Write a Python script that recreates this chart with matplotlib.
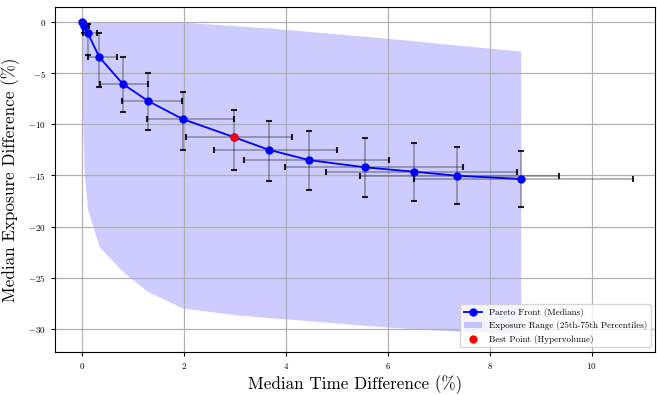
import matplotlib
matplotlib.use("Agg")
import matplotlib.pyplot as plt
import numpy as np

plt.rcParams["font.family"] = ["cmr10", "DejaVu Serif"]
plt.rcParams["mathtext.fontset"] = "cm"
plt.rcParams["axes.formatter.use_mathtext"] = True
plt.rcParams["axes.unicode_minus"] = True

# Pareto front medians (time difference %, exposure difference %)
time_median = [0.0, 0.045, 0.112, 0.339, 0.798, 1.288, 1.975, 2.975,
               3.661, 4.451, 5.549, 6.516, 7.347, 8.608]
exposure_median = [0.0, -0.36, -1.07, -3.42, -6.03, -7.69, -9.48, -11.24,
                   -12.48, -13.49, -14.20, -14.63, -15.02, -15.34]

# Interquartile spread of time around each median
time_q25 = [0.0, 0.0, 0.02, 0.118, 0.353, 0.784, 1.269, 2.039,
            2.588, 3.171, 3.98, 4.778, 5.451, 6.516]
time_q75 = [0.0, 0.137, 0.29, 0.68, 1.288, 1.961, 2.975, 4.118,
            5.0, 6.03, 7.476, 8.524, 9.359, 10.81]

# Interquartile spread of exposure used for the vertical bars
exp_bar_hi = [0.0, 0.0, -0.2, -1.07, -3.42, -4.98, -6.84, -8.60,
              -9.67, -10.62, -11.31, -11.80, -12.24, -12.58]
exp_bar_lo = [0.0, -1.07, -3.23, -6.35, -8.80, -10.55, -12.51, -14.46,
              -15.54, -16.42, -17.07, -17.46, -17.76, -18.05]

# Exposure range band (25th-75th percentiles)
exp_band_hi = [0.0, 0.0, 0.0, 0.0, 0.0, 0.0, 0.0, -0.34,
               -0.57, -0.91, -1.38, -1.82, -2.24, -2.83]
exp_band_lo = [-7.0, -15.0, -18.4, -21.97, -24.4, -26.35, -27.96, -28.6,
               -28.9, -29.2, -29.66, -30.0, -30.24, -30.5]

best_index = 7

tm = np.array(time_median)
em = np.array(exposure_median)
xerr = np.vstack([tm - np.array(time_q25), np.array(time_q75) - tm])
yerr = np.vstack([em - np.array(exp_bar_lo), np.array(exp_bar_hi) - em])
xerr = np.clip(xerr, 0, None)
yerr = np.clip(yerr, 0, None)

fig = plt.figure(figsize=(6.57, 3.95), dpi=100)
ax = fig.add_axes([0.0837, 0.109, 0.914, 0.873])

ax.fill_between(tm, exp_band_lo, exp_band_hi, color="blue", alpha=0.2,
                linewidth=0, label="Exposure Range (25th-75th Percentiles)")

eb = ax.errorbar(tm, em, xerr=xerr, yerr=yerr, fmt="none", ecolor="black",
                 elinewidth=1.3, capsize=2.5, capthick=1.5, alpha=0.3)
for cap in eb[1]:
    cap.set_alpha(0.85)

ax.plot(tm, em, "-o", color="blue", markersize=5, linewidth=1.3,
        label="Pareto Front (Medians)")
ax.plot(tm[best_index], em[best_index], "o", color="red", markersize=5,
        label="Best Point (Hypervolume)", zorder=5)

ax.set_xlim(-0.53, 11.25)
ax.set_ylim(-32.26, 1.47)
ax.set_xticks([0, 2, 4, 6, 8, 10])
ax.set_yticks([0, -5, -10, -15, -20, -25, -30])
ax.tick_params(labelsize=6.5, length=3)
ax.grid(True, color="#b0b0b0", linewidth=0.9)

ax.set_xlabel("Median Time Difference (%)", fontsize=12.3, labelpad=3)
ax.set_ylabel("Median Exposure Difference (%)", fontsize=12.3, labelpad=6)

handles, labels = ax.get_legend_handles_labels()
order = [labels.index("Pareto Front (Medians)"),
         labels.index("Exposure Range (25th-75th Percentiles)"),
         labels.index("Best Point (Hypervolume)")]
ax.legend([handles[i] for i in order], [labels[i] for i in order],
          loc="lower right", fontsize=6.5, framealpha=0.8)

fig.savefig("out.png", dpi=100)
